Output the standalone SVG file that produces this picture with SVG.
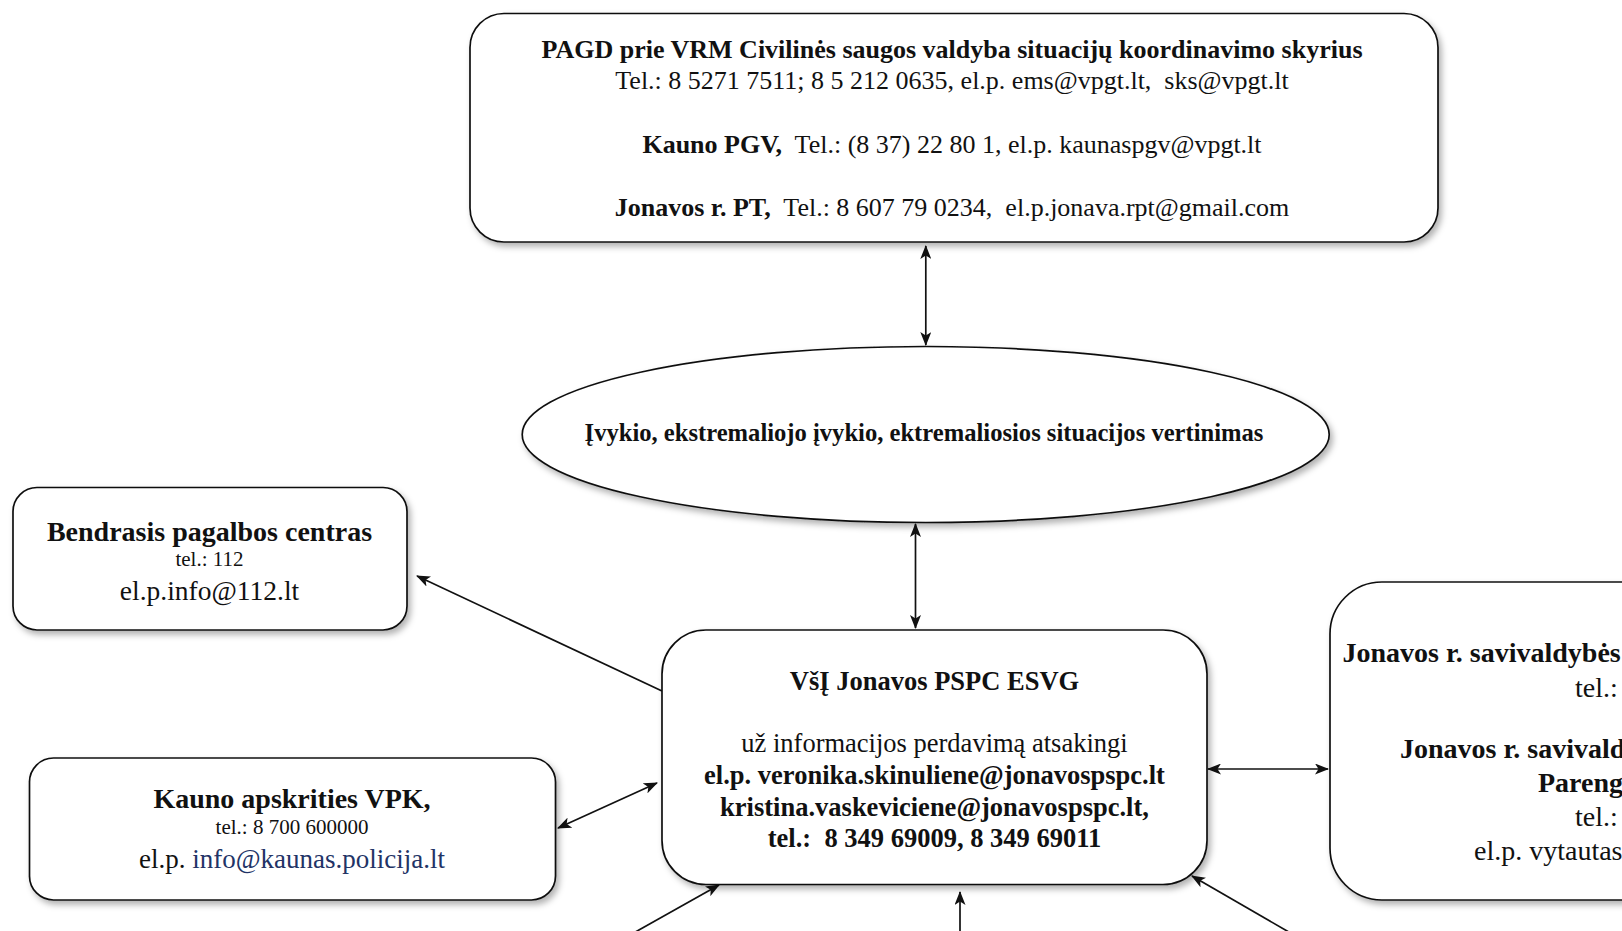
<svg xmlns="http://www.w3.org/2000/svg" width="1622" height="931" viewBox="0 0 1622 931">
<style>
text{font-family:"Liberation Serif","Times New Roman",serif;fill:#111;white-space:pre}
.b{font-weight:bold}
.c{text-anchor:middle}
.box{fill:#fff;stroke:#111;stroke-width:1.7;filter:url(#sh)}
.ln{fill:none;stroke:#111;stroke-width:1.7}
.dbl{marker-start:url(#ah);marker-end:url(#ah)}
.one{marker-end:url(#ah)}
</style>
<defs>
<filter id="sh" x="-10%" y="-10%" width="130%" height="130%">
<feDropShadow dx="3" dy="4" stdDeviation="3" flood-color="#000" flood-opacity="0.3"/>
</filter>
<marker id="ah" viewBox="0 0 14 11" refX="13" refY="5.5" markerWidth="14" markerHeight="11" markerUnits="userSpaceOnUse" orient="auto-start-reverse">
<path d="M0,0 L14,5.5 L0,11 L3.5,5.5 z" fill="#111"/>
</marker>
</defs>
<rect width="1622" height="931" fill="#fff"/>

<g id="connectors">
<path class="ln dbl" d="M925.8 246 L925.8 345"/>
<path class="ln dbl" d="M915.5 524 L915.5 628"/>
<path class="ln one" d="M662 691 L417 576"/>
<path class="ln dbl" d="M558 828 L657 783"/>
<path class="ln dbl" d="M1208 769 L1328 769"/>
<path class="ln one" d="M630 935 L719 885"/>
<path class="ln one" d="M960 935 L960 892"/>
<path class="ln one" d="M1294 935 L1192 876"/>
</g>

<g id="node-pagd">
<rect class="box" x="470" y="13.5" width="968" height="228.5" rx="34"/>
<text class="c" x="952" y="58" font-size="26"><tspan class="b">PAGD prie VRM Civilinės saugos valdyba situacijų koordinavimo skyrius</tspan></text>
<text class="c" x="952" y="89" font-size="26">Tel.: 8 5271 7511; 8 5 212 0635, el.p. ems@vpgt.lt,  sks@vpgt.lt</text>
<text class="c" x="952" y="153" font-size="26"><tspan class="b">Kauno PGV,</tspan>  Tel.: (8 37) 22 80 1, el.p. kaunaspgv@vpgt.lt</text>
<text class="c" x="952" y="216" font-size="26"><tspan class="b">Jonavos r. PT,</tspan>  Tel.: 8 607 79 0234,  el.p.jonava.rpt@gmail.com</text>
</g>

<g id="node-vertinimas">
<ellipse class="box" cx="925.7" cy="434.5" rx="403.5" ry="88"/>
<text class="c b" x="924" y="441" font-size="24.6">Įvykio, ekstremaliojo įvykio, ektremaliosios situacijos vertinimas</text>
</g>

<g id="node-bpc">
<rect class="box" x="13" y="487.5" width="394" height="142.5" rx="24"/>
<text class="c b" x="209.5" y="541" font-size="28">Bendrasis pagalbos centras</text>
<text class="c" x="209.5" y="566" font-size="21">tel.: 112</text>
<text class="c" x="209.5" y="600" font-size="27.5">el.p.info@112.lt</text>
</g>

<g id="node-vpk">
<rect class="box" x="29.5" y="758" width="526" height="142" rx="24"/>
<text class="c b" x="292" y="808" font-size="28">Kauno apskrities VPK,</text>
<text class="c" x="292" y="834" font-size="21">tel.: 8 700 600000</text>
<text class="c" x="292" y="868" font-size="27">el.p. <tspan fill="#223366">info@kaunas.policija.lt</tspan></text>
</g>

<g id="node-esvg">
<rect class="box" x="662" y="630" width="545" height="254.5" rx="44"/>
<text class="c b" x="934.5" y="690" font-size="26.5">VšĮ Jonavos PSPC ESVG</text>
<text class="c" x="934.5" y="752" font-size="26.5">už informacijos perdavimą atsakingi</text>
<text class="c b" x="934.5" y="784" font-size="26.5">el.p. veronika.skinuliene@jonavospspc.lt</text>
<text class="c b" x="934.5" y="815.5" font-size="26.5">kristina.vaskeviciene@jonavospspc.lt,</text>
<text class="c b" x="934.5" y="847" font-size="26.5">tel.:  8 349 69009, 8 349 69011</text>
</g>

<g id="node-savivaldybe">
<rect class="box" x="1330" y="582" width="360" height="318" rx="52"/>
<text class="b" x="1342.5" y="662" font-size="28">Jonavos r. savivaldybės</text>
<text x="1575" y="697" font-size="28">tel.:</text>
<text class="b" x="1400" y="758" font-size="28">Jonavos r. savivald</text>
<text class="b" x="1538" y="792" font-size="28">Pareng</text>
<text x="1575" y="826" font-size="28">tel.:</text>
<text x="1474" y="860" font-size="28">el.p. vytautas</text>
</g>
</svg>
